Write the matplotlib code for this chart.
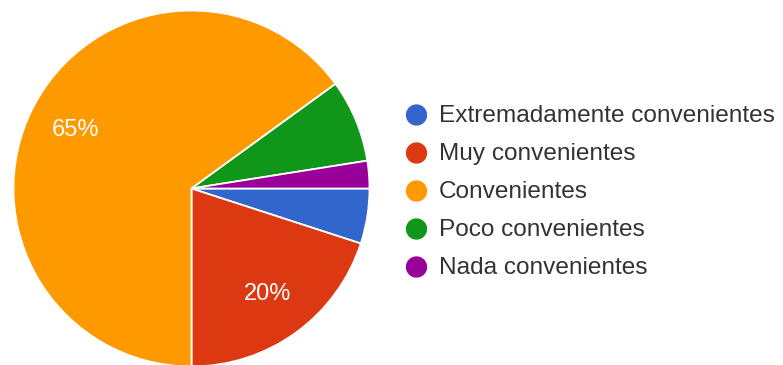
import matplotlib
matplotlib.use("Agg")
import matplotlib.pyplot as plt

# survey answers (40 responses)
categories = ["Extremadamente convenientes", "Muy convenientes",
              "Convenientes", "Poco convenientes", "Nada convenientes"]
counts = [2, 8, 26, 3, 1]
colors = ["#3366CC", "#DC3912", "#FF9900", "#109618", "#990099"]

W, H = 783, 365
DPI = 100
plt.rcParams['font.family'] = ['Liberation Sans', 'DejaVu Sans']

fig = plt.figure(figsize=(W / DPI, H / DPI), dpi=DPI)
fig.patch.set_facecolor("white")

# pie axes placed in pixel space: centre (191.5, 188.5), radius 178
cx, cy, r = 191.5, 188.5, 178
ax = fig.add_axes([(cx - r) / W, (H - cy - r) / H, 2 * r / W, 2 * r / H])


def pct_label(p):
    return f"{p:.0f}%" if p > 10 else ""


wedges, _, autotexts = ax.pie(
    counts, colors=colors, startangle=0, counterclock=False,
    autopct=pct_label, pctdistance=0.73, radius=1,
    wedgeprops=dict(edgecolor="white", linewidth=1.3),
    textprops=dict(color="white", fontsize=17),
)
ax.set_xlim(-1, 1)
ax.set_ylim(-1, 1)
ax.set_aspect("equal")
ax.axis("off")

# legend drawn in a full-figure overlay with pixel coordinates
lax = fig.add_axes([0, 0, 1, 1], zorder=-1)
lax.set_xlim(0, W)
lax.set_ylim(H, 0)
lax.axis("off")
for i, (name, col) in enumerate(zip(categories, colors)):
    y = 115 + i * 38
    lax.scatter([416.5], [y], s=235, color=col, edgecolors="none")
    lax.text(439, y + 1, name, fontsize=17.6, color="#333333",
             va="center", ha="left")

fig.savefig("out.png", dpi=DPI)
